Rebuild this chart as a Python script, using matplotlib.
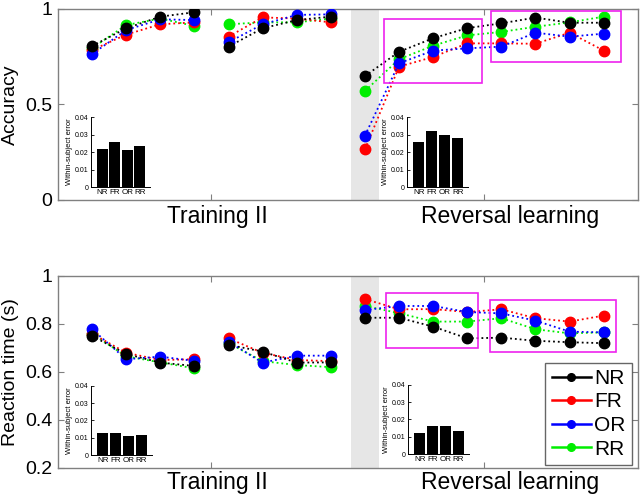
import matplotlib
matplotlib.use("Agg")
import matplotlib.pyplot as plt
from matplotlib.patches import Rectangle
from matplotlib.lines import Line2D
import numpy as np

plt.rcParams['font.family'] = ['Liberation Sans', 'DejaVu Sans']

conds = ['NR', 'FR', 'OR', 'RR']
colors = ['#000000', '#ff0000', '#0000ff', '#00ee00']

# accuracy per block (16 blocks: 2x4 training II, 8 reversal)
acc_nr = [0.806, 0.899, 0.960, 0.983, 0.803, 0.899, 0.942, 0.960, 0.649, 0.776, 0.847, 0.900, 0.925, 0.955, 0.928, 0.928]
acc_fr = [0.785, 0.866, 0.920, 0.930, 0.855, 0.956, 0.950, 0.930, 0.265, 0.698, 0.749, 0.820, 0.820, 0.818, 0.876, 0.782]
acc_or = [0.764, 0.890, 0.946, 0.942, 0.826, 0.920, 0.969, 0.972, 0.337, 0.716, 0.782, 0.794, 0.803, 0.876, 0.855, 0.871]
acc_rr = [0.795, 0.916, 0.950, 0.911, 0.920, 0.930, 0.930, 0.950, 0.571, 0.737, 0.808, 0.862, 0.880, 0.907, 0.930, 0.960]

# reaction time (s)
rt_nr = [0.750, 0.675, 0.639, 0.625, 0.713, 0.685, 0.639, 0.640, 0.826, 0.826, 0.789, 0.740, 0.743, 0.730, 0.724, 0.720]
rt_fr = [0.760, 0.680, 0.650, 0.653, 0.740, 0.680, 0.650, 0.645, 0.904, 0.861, 0.862, 0.850, 0.861, 0.824, 0.810, 0.835]
rt_or = [0.778, 0.653, 0.664, 0.646, 0.726, 0.639, 0.668, 0.668, 0.858, 0.875, 0.875, 0.850, 0.844, 0.814, 0.768, 0.765]
rt_rr = [0.760, 0.665, 0.640, 0.615, 0.720, 0.645, 0.629, 0.620, 0.875, 0.845, 0.810, 0.810, 0.824, 0.778, 0.761, 0.765]

# within-subject error insets
err_acc_train = [0.0217, 0.0260, 0.0210, 0.0233]
err_acc_rev = [0.0256, 0.0322, 0.0295, 0.0281]
err_rt_train = [0.0128, 0.0128, 0.0110, 0.0113]
err_rt_rev = [0.0121, 0.0164, 0.0160, 0.0135]

segments = [(0, 4), (4, 8), (8, 16)]
blocks = np.arange(1, 17)

fig = plt.figure(figsize=(6.4, 4.97), dpi=100)
ax1 = fig.add_axes([0.0906, 0.5976, 0.906, 0.3843])
ax2 = fig.add_axes([0.0906, 0.0584, 0.906, 0.3863])

def draw_main(ax, series, ylim, yticks, ylabel, boxes, text_y):
    ax.axvspan(8.6, 9.4, color='#e6e6e6', lw=0, zorder=0)
    # draw order: RR, FR, OR, NR (black on top)
    for idx in [3, 1, 2, 0]:
        vals = np.array(series[idx])
        for a, b in segments:
            ax.plot(blocks[a:b], vals[a:b], ':', color=colors[idx], lw=1.3,
                    marker='o', ms=7.5, mec=colors[idx], mfc=colors[idx], zorder=3)
    for x0, x1, y0, y1 in boxes:
        ax.add_patch(Rectangle((x0, y0), x1 - x0, y1 - y0, fill=False,
                               ec='#ee22ee', lw=1.2, zorder=4))
    ax.set_xlim(0, 17)
    ax.set_ylim(*ylim)
    ax.set_yticks(yticks)
    ax.set_yticklabels([('%g' % t) for t in yticks])
    ax.set_xticks([4.5, 12.5])
    ax.set_xticklabels([])
    ax.tick_params(direction='in', length=4, width=0.8, color='#808080',
                   labelsize=14, pad=4, top=True, right=True)
    for sp in ax.spines.values():
        sp.set_color('#808080')
        sp.set_linewidth(1.0)
    ax.set_ylabel(ylabel, fontsize=14)
    ax.yaxis.set_label_coords(-0.068, 0.5)
    tr = ax.get_xaxis_transform()
    ax.text(4.66, text_y, 'Training II', transform=tr, ha='center', va='center', fontsize=16.5)
    ax.text(13.25, text_y, 'Reversal learning', transform=tr, ha='center', va='center', fontsize=16.5)

draw_main(ax1, [acc_nr, acc_fr, acc_or, acc_rr], (0, 1), [0, 0.5, 1], 'Accuracy',
          [(9.56, 12.43, 0.613, 0.948), (12.7, 16.5, 0.72, 0.99)], -0.084)
draw_main(ax2, [rt_nr, rt_fr, rt_or, rt_rr], (0.2, 1), [0.2, 0.4, 0.6, 0.8, 1],
          'Reaction time (s)',
          [(9.62, 12.32, 0.70, 0.929), (12.67, 16.36, 0.683, 0.90)], -0.078)

handles = [Line2D([0], [0], color=c, lw=1.8, marker='o', ms=5.5) for c in colors]
leg = ax2.legend(handles, conds, loc='lower right', bbox_to_anchor=(0.99, 0.016),
                 borderaxespad=0, fancybox=False, fontsize=15, handlelength=1.9,
                 handletextpad=0.15, labelspacing=0.22, borderpad=0.3)
leg.get_frame().set_edgecolor('#404040')
leg.get_frame().set_linewidth(1.0)
leg.set_zorder(10)

def draw_inset(rect, vals):
    ax = fig.add_axes(rect)
    ax.bar(np.arange(1, 5), vals, width=0.88, color='black')
    ax.set_xlim(0.1, 4.8)
    ax.set_ylim(0, 0.04)
    ax.set_yticks([0, 0.01, 0.02, 0.03, 0.04])
    ax.set_yticklabels(['0', '0.01', '0.02', '0.03', '0.04'])
    ax.set_xticks(np.arange(1, 5))
    ax.set_xticklabels(conds)
    ax.tick_params(axis='y', direction='in', length=2, width=0.6, labelsize=5, pad=2)
    ax.tick_params(axis='x', length=0, labelsize=5.8, pad=1.5)
    ax.spines['top'].set_visible(False)
    ax.spines['right'].set_visible(False)
    ax.spines['left'].set_linewidth(0.7)
    ax.spines['bottom'].set_linewidth(0.7)
    ax.set_ylabel('Within-subject error', fontsize=5.5, labelpad=1)
    ax.patch.set_alpha(0)
    return ax

draw_inset([0.1422, 0.6237, 0.0922, 0.1408], err_acc_train)
draw_inset([0.636, 0.6237, 0.0953, 0.1408], err_acc_rev)
draw_inset([0.1422, 0.0845, 0.0953, 0.139], err_rt_train)
draw_inset([0.6375, 0.0865, 0.0953, 0.139], err_rt_rev)

fig.savefig('out.png', dpi=100)
